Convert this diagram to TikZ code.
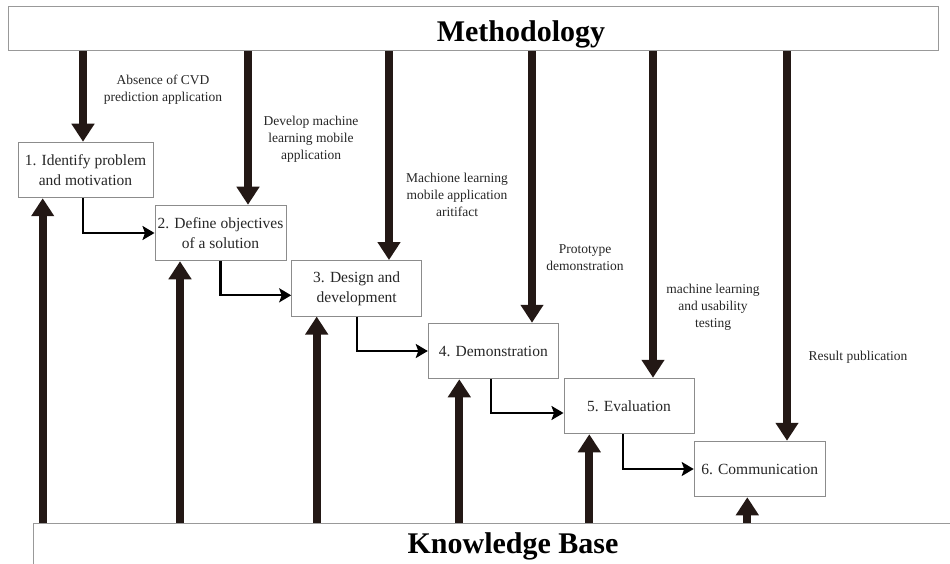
\documentclass[tikz,border=0pt]{standalone}
\usepackage{fontspec}
\setmainfont{Liberation Serif}
\usetikzlibrary{arrows.meta}
\definecolor{arrowdark}{HTML}{231815}
\begin{document}
\begin{tikzpicture}[x=1pt, y=-1pt,
    bar/.style={draw=black!40, line width=1pt, inner sep=0pt, minimum height=44pt},
    bartext/.style={font=\fontsize{30}{34}\selectfont\bfseries, inner sep=0pt},
    stepbox/.style={draw=black!45, line width=1pt, fill=white, align=center, inner sep=0pt,
        minimum height=55.5pt, text=black!85, font=\fontsize{15.5}{20}\selectfont},
    flowlabel/.style={align=center, inner sep=0pt, text=black!85, font=\fontsize{13.5}{17}\selectfont},
    bigarrow/.style={draw=arrowdark, line width=8pt, -{Triangle[length=18pt, width=22pt]}},
    thinarrow/.style={draw=black, line width=2.3pt, -{Stealth[length=12pt, width=14pt, inset=2.5pt]}}]
    \useasboundingbox (0,0) rectangle (950,564);
    \node[bar, minimum width=930pt] (meth) at (473,29) {};
    \node[bartext] (methtext) at (521,34) {Methodology};
    \node[bar, minimum width=920pt] (kb) at (493,545) {};
    \node[bartext] (kbtext) at (513,546) {Knowledge Base};
    \node[stepbox, minimum width=135pt] (b1) at (85.5,170) {1. Identify problem\\and motivation};
    \node[stepbox, minimum width=131pt] (b2) at (220.5,233) {2. Define objectives\\of a solution};
    \node[stepbox, minimum width=130pt] (b3) at (356.7,288.3) {3. Design and\\development};
    \node[stepbox, minimum width=130pt] (b4) at (493.3,351) {4. Demonstration};
    \node[stepbox, minimum width=130pt] (b5) at (629,406) {5. Evaluation};
    \node[stepbox, minimum width=131pt] (b6) at (759.7,469) {6. Communication};
    \node[flowlabel] (l1) at (163,90) {Absence of CVD\\prediction application};
    \node[flowlabel] (l2) at (311,139) {Develop machine\\learning mobile\\application};
    \node[flowlabel] (l3) at (457,195) {Machione learning\\mobile application\\aritifact};
    \node[flowlabel] (l4) at (585,258) {Prototype\\demonstration};
    \node[flowlabel] (l5) at (713,307) {machine learning\\and usability\\testing};
    \node[flowlabel] (l6) at (858,357) {Result publication};
    \foreach \n/\x in {1/83,2/248,3/389,4/532,5/653,6/787}
        \draw[bigarrow] (meth.south -| \x,0) -- (b\n.north -| \x,0);
    \foreach \n/\x in {1/42.7,2/180,3/316.7,4/459.3,5/589.3,6/747.3}
        \draw[bigarrow] (kb.north -| \x,0) -- (b\n.south -| \x,0);
    \draw[thinarrow] ([xshift=-2.5pt]b1.south) |- (b2.west);
    \draw[thinarrow] (b2.south) |- ([yshift=-7pt]b3.west);
    \draw[thinarrow] (b3.south) |- (b4.west);
    \draw[thinarrow] ([xshift=-2.5pt]b4.south) |- ([yshift=-7pt]b5.west);
    \draw[thinarrow] ([xshift=-6pt]b5.south) |- (b6.west);
\end{tikzpicture}
\end{document}
